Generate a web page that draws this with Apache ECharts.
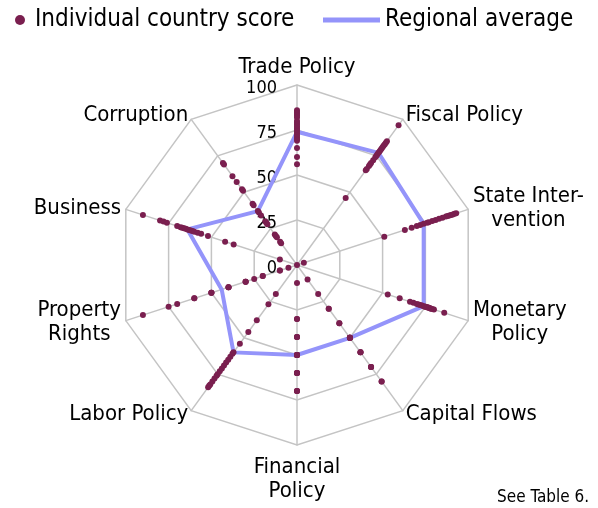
<!DOCTYPE html>
<html>
<head>
<meta charset="utf-8">
<script src="https://cdn.jsdelivr.net/npm/echarts@6/dist/echarts.min.js"></script>
<style>
html,body{margin:0;padding:0;background:#fff;}
#chart{width:598px;height:508px;}
</style>
</head>
<body>
<div id="chart"></div>
<script>
// Axes in clockwise order starting at the top
var categories = ['Trade Policy', 'Fiscal Policy', 'State Inter-\nvention', 'Monetary\nPolicy', 'Capital Flows',
  'Financial\nPolicy', 'Labor Policy', 'Property\nRights', 'Business', 'Corruption'];
var tickLabels = ['0', '25', '50', '75', '100'];

// Individual country scores per axis (one value per country)
var tradePolicy       = [86, 85, 84, 83, 82, 80, 79, 78, 77, 76, 75, 74, 73, 72, 71, 70, 69, 65, 60, 56];
var fiscalPolicy      = [96, 85, 84, 83, 82, 81, 80, 79, 78, 77, 76, 75, 74, 72, 70, 69, 68, 66, 65, 46];
var stateIntervention = [93, 92, 91, 90, 89, 88, 87, 85, 83, 81, 79, 77, 76, 74, 72, 70, 67, 63, 51, 4];
var monetaryPolicy    = [86, 80, 79, 78, 78, 77, 77, 76, 76, 75, 75, 74, 73, 72, 71, 70, 68, 66, 60, 53];
var capitalFlows      = [80, 80, 70, 70, 70, 60, 60, 60, 50, 50, 50, 50, 50, 50, 40, 40, 30, 30, 20, 10];
var financialPolicy   = [70, 70, 70, 60, 60, 60, 60, 50, 50, 50, 50, 50, 50, 50, 40, 40, 40, 30, 30, 10];
var laborPolicy       = [84, 83, 82, 80, 78, 76, 75, 73, 71, 69, 67, 65, 63, 61, 60, 54, 46, 38, 27, 20];
var propertyRights    = [90, 75, 70, 60, 60, 50, 50, 50, 40, 40, 40, 30, 30, 30, 25, 20, 20, 10, 10, 5];
var business          = [90, 80, 78, 76, 70, 68, 67, 66, 65, 64, 63, 62, 61, 60, 58, 56, 52, 42, 37, 10];
var corruption        = [70, 69, 61, 57, 52, 51, 42, 41, 37, 36, 34, 30, 29, 28, 21, 20, 19, 16, 15, 0];

// Regional average per axis
var regionalAverage = [74, 77, 74, 74, 50, 50, 60, 44, 64, 37];

var axisValues = [tradePolicy, fiscalPolicy, stateIntervention, monetaryPolicy, capitalFlows,
  financialPolicy, laborPolicy, propertyRights, business, corruption];

// ECharts lays out radar indicators counter-clockwise; reorder to get clockwise placement
var order = [0];
for (var k = categories.length - 1; k >= 1; k--) order.push(k);

var FONT = "'DejaVu Sans Condensed', 'DejaVu Sans', sans-serif";
var nameGaps = { 0: 7, 5: 10 };
var indicator = order.map(function (idx, j) {
  var ind = { name: categories[idx], min: 0, max: 100, nameGap: nameGaps[idx] != null ? nameGaps[idx] : 5 };
  if (j === 0) {
    ind.axisLabel = {
      show: true, margin: 20, fontSize: 18, color: '#000', fontFamily: FONT,
      formatter: function (v) {
        var i = Math.round(v / 25);
        return tickLabels[i] != null ? '{t|' + tickLabels[i] + '}' : '';
      },
      rich: { t: { fontSize: 18, fontFamily: FONT, color: '#000', padding: [6, 0, 0, 0] } }
    };
  }
  return ind;
});

var countryData = [];
for (var c = 0; c < tradePolicy.length; c++) {
  countryData.push({ value: order.map(function (idx) { return axisValues[idx][c]; }) });
}
var avgData = [{ value: order.map(function (idx) { return regionalAverage[idx]; }) }];

var chart = echarts.init(document.getElementById('chart'), null, { renderer: 'canvas' });
chart.setOption({
  animation: false,
  backgroundColor: '#fff',
  title: {
    text: 'See Table 6.',
    left: 497, top: 489, padding: 0,
    textStyle: { fontSize: 17, fontWeight: 'normal', color: '#000', fontFamily: FONT }
  },
  legend: [
    {
      data: [{ name: 'Individual country score', icon: 'circle' }],
      left: 10, top: 3, itemWidth: 20, itemHeight: 10,
      textStyle: { fontSize: 24, color: '#000', fontFamily: FONT }
    },
    {
      data: [{ name: 'Regional average', icon: 'rect' }],
      left: 318, top: 3, itemWidth: 57, itemHeight: 5,
      textStyle: { fontSize: 24, color: '#000', fontFamily: FONT }
    }
  ],
  radar: {
    center: [297, 265],
    radius: 180,
    startAngle: 90,
    splitNumber: 4,
    shape: 'polygon',
    indicator: indicator,
    nameGap: 5,
    axisName: {
      color: '#000', fontSize: 22, fontFamily: FONT,
      formatter: function (name) {
        if (name.indexOf('\n') < 0) return name;
        return name.split('\n').map(function (l) { return '{c|' + l + '}'; }).join('\n');
      },
      rich: { c: { align: 'center', fontSize: 22, fontFamily: FONT, color: '#000', lineHeight: 24 } }
    },
    axisLine: { lineStyle: { color: '#c4c4c4', width: 1.5 } },
    splitLine: { lineStyle: { color: '#c4c4c4', width: 1.5 } },
    splitArea: { show: false },
    axisTick: { show: false },
    axisLabel: { show: false }
  },
  series: [
    {
      name: 'Regional average',
      type: 'radar',
      symbol: 'none',
      z: 2,
      lineStyle: { color: '#9494fa', width: 4 },
      itemStyle: { color: '#9494fa' },
      data: avgData
    },
    {
      name: 'Individual country score',
      type: 'radar',
      symbol: 'circle',
      symbolSize: 6,
      z: 3,
      itemStyle: { color: '#7a1f4f' },
      lineStyle: { width: 0, opacity: 0 },
      data: countryData
    }
  ]
});
</script>
</body>
</html>
